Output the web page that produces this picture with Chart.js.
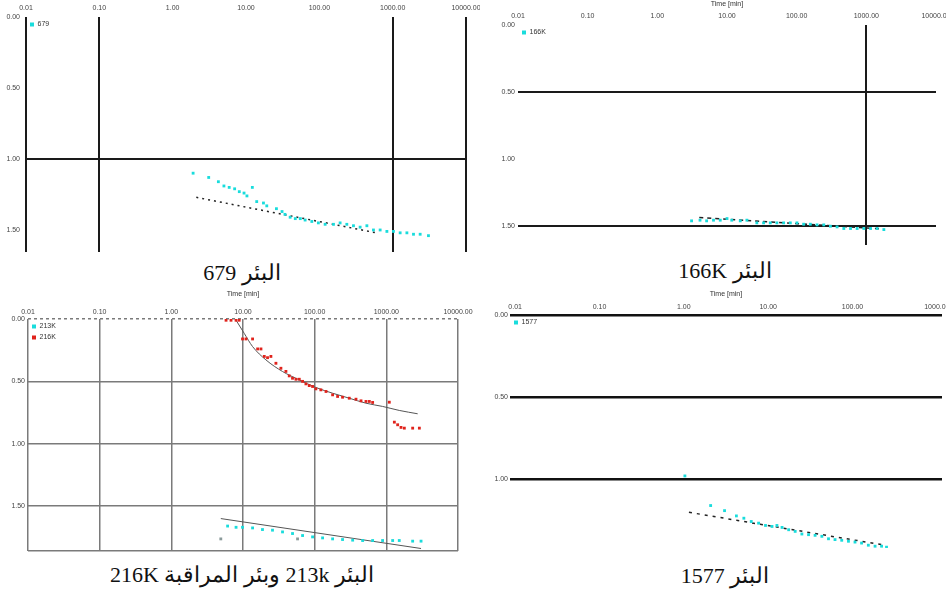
<!DOCTYPE html>
<html>
<head>
<meta charset="utf-8">
<script src="https://cdn.jsdelivr.net/npm/chart.js@4/dist/chart.umd.min.js"></script>
<style>
  body { margin: 0; background: #fff; width: 946px; height: 590px; position: relative; overflow: hidden; }
  canvas { position: absolute; }
  .cap { position: absolute; transform: translateX(-50%); white-space: nowrap; direction: rtl;
         font-family: "Liberation Serif", "Times New Roman", serif; font-size: 22px; line-height: 22px; color: #111; }
</style>
</head>
<body>
<canvas id="c679" width="480" height="256" style="left:0;top:0"></canvas>
<canvas id="c166" width="473" height="250" style="left:473px;top:0"></canvas>
<canvas id="c213" width="473" height="265" style="left:0;top:290px"></canvas>
<canvas id="c1577" width="473" height="262" style="left:473px;top:290px"></canvas>
<div class="cap" style="left:242px;top:262px">البئر 679</div>
<div class="cap" style="left:725px;top:260px">البئر 166K</div>
<div class="cap" style="left:242px;top:564px">البئر 213k وبئر المراقبة 216K</div>
<div class="cap" style="left:725px;top:565px">البئر 1577</div>
<script>
// axis ticks
const xTicks = [0.01, 0.1, 1, 10, 100, 1000, 10000];
const xTicksShort = [0.01, 0.1, 1, 10, 100, 1000];
const yTicks = [0, 0.5, 1, 1.5];
const yTicksShort = [0, 0.5, 1];

// well 679 (time in min, drawdown)
const t679 = [1.9, 3.1, 4.2, 5.0, 5.9, 7.0, 8.1, 9.4, 10.3, 12.2, 14, 17.3, 19.2, 26, 31, 34, 40, 47, 55, 64,
  79, 97, 120, 156, 192, 237, 292, 360, 445, 547, 675, 834, 1025, 1265, 1563, 1923, 2371, 3076];
const s679 = [1.10, 1.13, 1.16, 1.19, 1.20, 1.21, 1.23, 1.24, 1.26, 1.20, 1.30, 1.31, 1.33, 1.35, 1.37, 1.39, 1.41, 1.42, 1.42, 1.43,
  1.44, 1.45, 1.46, 1.46, 1.45, 1.46, 1.47, 1.48, 1.47, 1.50, 1.50, 1.51, 1.51, 1.52, 1.52, 1.53, 1.53, 1.54];
const fitT679 = [2.1, 600];
const fitS679 = [1.27, 1.52];

// well 166K
const t166 = [3.1, 4.1, 5.1, 6.4, 8.0, 10, 11.7, 15.5, 19.3, 26.8, 33.5, 41.8, 52, 65, 81, 101, 126, 157, 196, 245,
  305, 380, 475, 593, 738, 920, 1150, 1430, 1785];
const s166 = [1.46, 1.455, 1.46, 1.455, 1.455, 1.443, 1.455, 1.46, 1.455, 1.475, 1.475, 1.475, 1.475, 1.475, 1.475, 1.475, 1.485, 1.485, 1.49, 1.49,
  1.50, 1.505, 1.517, 1.517, 1.517, 1.517, 1.517, 1.517, 1.525];
const fitT166 = [4, 1600];
const fitS166 = [1.435, 1.52];

// observation well 216K
const t216 = [5.8, 6.8, 8.0, 8.85, 9.85, 11.0, 13.6, 16.0, 17.8, 19.8, 22, 24.5, 28.8, 33.8, 39.7, 44.2, 49.1, 54.8, 61, 67.8,
  75.5, 84, 93.5, 104, 122, 144, 178, 209, 245, 304, 377, 443, 520, 579, 644, 1100, 1294, 1439, 1603, 1783, 2330, 2890];
const s216 = [0.01, 0.01, 0.01, 0.01, 0.16, 0.16, 0.16, 0.24, 0.24, 0.30, 0.31, 0.30, 0.355, 0.395, 0.42, 0.456, 0.475, 0.483, 0.483, 0.50,
  0.52, 0.534, 0.541, 0.56, 0.568, 0.581, 0.608, 0.621, 0.627, 0.635, 0.643, 0.656, 0.661, 0.661, 0.669, 0.667, 0.827, 0.848, 0.869, 0.875, 0.875, 0.875];
const fitT216 = [8.0, 10.4, 13.6, 20.9, 35.6, 61, 104, 178, 304, 520, 887, 1515, 2737];
const fitS216 = [0.01, 0.115, 0.221, 0.328, 0.421, 0.488, 0.549, 0.595, 0.635, 0.675, 0.701, 0.733, 0.76];

// pumping well 213K
const t213 = [6.1, 8.0, 9.85, 13.6, 18.7, 25.8, 35.6, 49.1, 67.8, 93.5, 129, 178, 245, 339, 467, 644, 887, 1225, 1515, 2330, 3050];
const s213 = [1.66, 1.67, 1.67, 1.675, 1.688, 1.693, 1.707, 1.72, 1.736, 1.747, 1.755, 1.763, 1.768, 1.773, 1.776, 1.776, 1.776, 1.776, 1.776, 1.781, 1.781];
const markT213 = [4.9, 57.7];
const markS213 = [1.763, 1.763];
const fitT213 = [4.9, 3050];
const fitS213 = [1.60, 1.84];

// well 1577
const t1577 = [1.03, 2.08, 3.04, 4.2, 5.15, 6.3, 7.7, 9.3, 11.1, 12.7, 14.6, 17.5, 20.9, 25.1, 30.1, 36, 43.3, 51.9, 62, 74.5,
  89.5, 107, 128, 154, 185, 221, 253];
const s1577 = [0.978, 1.158, 1.189, 1.221, 1.235, 1.255, 1.265, 1.279, 1.285, 1.279, 1.291, 1.305, 1.315, 1.331, 1.335, 1.339, 1.345, 1.36, 1.365, 1.369,
  1.375, 1.38, 1.386, 1.399, 1.405, 1.405, 1.411];
const fitT1577 = [1.15, 242];
const fitS1577 = [1.199, 1.399];

Chart.defaults.font.family = '"Liberation Sans", Arial, sans-serif';
Chart.defaults.color = '#444';

const CYAN = '#19dcdc';
const RED = '#e0231c';

const pts = (t, s) => t.map((v, i) => ({ x: v, y: s[i] }));
const fmt = v => Number(v).toFixed(2);

function dots(label, t, s, color) {
  return { label, data: pts(t, s), backgroundColor: color, borderColor: color,
           pointStyle: 'rect', pointRadius: 2, borderWidth: 0 };
}
function fit(t, s, color, dash, width) {
  return { label: '', data: pts(t, s), showLine: true, borderColor: color, borderWidth: width,
           borderDash: dash, pointRadius: 0, cubicInterpolationMode: 'monotone' };
}

function gridAt(vals, color, width) {
  const on = c => c.tick && vals.includes(c.tick.value);
  return { drawTicks: false, color: c => on(c) ? color : 'rgba(0,0,0,0)', lineWidth: c => on(c) ? width : 0 };
}

function xAxis(o) {
  return {
    type: 'logarithmic', position: 'top', min: o.min, max: o.max,
    afterBuildTicks: s => { s.ticks = o.ticks.map(v => ({ value: v })); },
    afterFit: s => { s.height = o.h; s.paddingLeft = 0; s.paddingRight = 0; },
    border: { display: false },
    grid: gridAt(o.grid, o.color, o.width),
    title: { display: !!o.title, text: 'Time [min]', font: { size: 7 }, padding: 0, color: '#333' },
    ticks: { callback: v => fmt(v), font: { size: 7 }, padding: o.pad, maxRotation: 0, autoSkip: false }
  };
}

function yAxis(o) {
  return {
    type: 'linear', reverse: true, min: 0, max: o.max,
    afterBuildTicks: s => { s.ticks = o.ticks.map(v => ({ value: v })); },
    afterFit: s => { s.width = o.w; s.paddingTop = 0; s.paddingBottom = 0; },
    border: o.border || { display: false },
    grid: gridAt(o.grid, o.color, o.width),
    ticks: { callback: v => fmt(v), font: { size: 7 }, padding: o.pad }
  };
}

const legend = {
  position: 'chartArea', align: 'start',
  labels: { usePointStyle: true, pointStyle: 'rect', boxWidth: 4, boxHeight: 4, padding: 4,
            font: { size: 7 }, color: '#333', filter: item => item.text !== '' }
};

// a vertical legend resets its top to 0, so pin it to the plot area
const legendInArea = {
  id: 'legendInArea',
  afterLayout(chart) {
    const a = chart.chartArea;
    if (chart.legend) {
      chart.legend.top = a.top;
      chart.legend.bottom = a.bottom;
      chart.legend.left = a.left;
    }
  }
};

function panel(id, datasets, pad, x, y) {
  return new Chart(document.getElementById(id), {
    type: 'scatter',
    data: { datasets },
    options: {
      responsive: false, animation: false,
      layout: { padding: pad },
      plugins: { legend, tooltip: { enabled: false } },
      scales: { x, y }
    },
    plugins: [legendInArea]
  });
}

// well 679
panel('c679',
  [dots('679', t679, s679, CYAN), fit(fitT679, fitS679, '#222', [2, 4], 1.5)],
  { left: 0, top: 0, right: 14, bottom: 4 },
  xAxis({ min: 0.01, max: 10000, ticks: xTicks, h: 17, pad: 5, grid: [0.01, 0.1, 1000, 10000], color: '#1a1a1a', width: 2 }),
  yAxis({ max: 1.655, ticks: yTicks, w: 26, pad: 6, grid: [1], color: '#1a1a1a', width: 2 }));

// well 166K
panel('c166',
  [dots('166K', t166, s166, CYAN), fit(fitT166, fitS166, '#222', [4, 4], 1.5)],
  { left: 0, top: 0, right: 10, bottom: 5 },
  xAxis({ min: 0.01, max: 10000, ticks: xTicks, h: 25, pad: 5, title: true, grid: [1000], color: '#1a1a1a', width: 2 }),
  yAxis({ max: 1.64, ticks: yTicks, w: 45, pad: 3, grid: [0.5, 1.5], color: '#1a1a1a', width: 2 }));

// wells 213K and 216K
panel('c213',
  [dots('213K', t213, s213, CYAN), dots('216K', t216, s216, RED),
   dots('', markT213, markS213, '#8a9a9a'),
   fit(fitT216, fitS216, '#555', [], 1), fit(fitT213, fitS213, '#555', [], 1)],
  { left: 0, top: 0, right: 15, bottom: 3 },
  xAxis({ min: 0.01, max: 10000, ticks: xTicks, h: 29, pad: 3, title: true, grid: xTicks, color: '#7a7a7a', width: 1.5 }),
  Object.assign(yAxis({ max: 1.86, ticks: yTicks.concat([1.86]), w: 28, pad: 3, grid: yTicks.concat([1.86]), color: '#7a7a7a', width: 1.5 }),
    { border: { display: false, dash: c => (c.tick && c.tick.value === 0) ? [3, 3] : [] },
      ticks: { callback: v => v > 1.8 ? '' : fmt(v), font: { size: 7 }, padding: 3 } }));

// well 1577
panel('c1577',
  [dots('1577', t1577, s1577, CYAN), fit(fitT1577, fitS1577, '#222', [3, 5], 1.5)],
  { left: 0, top: 0, right: 3, bottom: 2 },
  xAxis({ min: 0.0087, max: 1150, ticks: xTicksShort, h: 25, pad: 4, title: true, grid: [], color: '#000', width: 0 }),
  yAxis({ max: 1.416, ticks: yTicksShort, w: 37, pad: 2, grid: yTicksShort, color: '#111', width: 2.5 }));
</script>
</body>
</html>
